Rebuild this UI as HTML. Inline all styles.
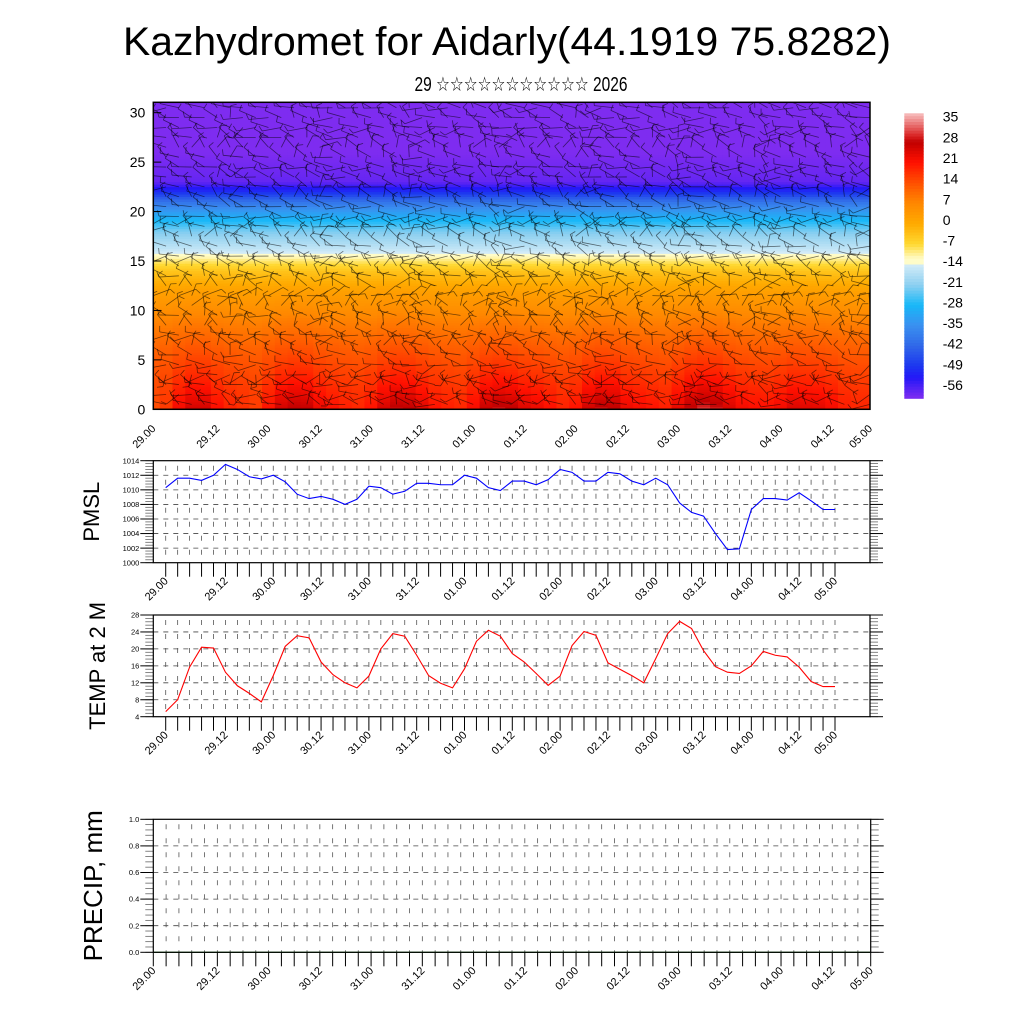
<!DOCTYPE html>
<html><head><meta charset="utf-8"><title>Kazhydromet for Aidarly</title>
<style>
html,body{margin:0;padding:0;background:#fff;}
svg{display:block;font-family:"Liberation Sans",Arial,sans-serif;}
</style></head>
<body>
<svg id="chart" xmlns="http://www.w3.org/2000/svg" width="1024" height="1024" viewBox="0 0 1024 1024">
<rect width="1024" height="1024" fill="#fff"/>
<text x="507" y="55" font-size="40" text-anchor="middle" textLength="768" lengthAdjust="spacingAndGlyphs">Kazhydromet for Aidarly(44.1919 75.8282)</text>
<text x="521" y="91" font-size="20" text-anchor="middle" textLength="213" lengthAdjust="spacingAndGlyphs" font-family="Liberation Sans, DejaVu Sans, sans-serif">29 ☆☆☆☆☆☆☆☆☆☆☆ 2026</text>
<defs><clipPath id="topclip"><rect x="153.3" y="102.3" width="716.7" height="307"/></clipPath></defs>
<g id="top"></g>
<g id="cbar"></g>
<g id="pmsl"></g>
<g id="temp"></g>
<g id="precip"></g>
</svg>
<script>
const timeLabels = ["29.00","29.12","30.00","30.12","31.00","31.12","01.00","01.12","02.00","02.12","03.00","03.12","04.00","04.12","05.00"];
const labelIdx = [0,5,9,13,17,21,25,29,33,37,41,45,49,53,56];
const pmslValues = [1010.3,1011.6,1011.6,1011.3,1012.0,1013.5,1012.8,1011.8,1011.5,1012.0,1011.1,1009.4,1008.8,1009.1,1008.7,1008.0,1008.7,1010.5,1010.3,1009.4,1009.8,1010.9,1010.9,1010.7,1010.7,1012.0,1011.6,1010.3,1009.9,1011.2,1011.2,1010.7,1011.4,1012.8,1012.4,1011.2,1011.2,1012.4,1012.2,1011.2,1010.7,1011.6,1010.7,1008.2,1006.9,1006.4,1004.0,1001.8,1001.9,1007.3,1008.8,1008.8,1008.6,1009.6,1008.5,1007.3,1007.3];
const tempValues = [5.2,8.0,15.7,20.4,20.2,14.5,11.3,9.5,7.5,13.7,20.6,23.1,22.6,16.9,13.9,12.0,10.8,13.6,20.0,23.6,23.0,18.5,13.7,11.9,10.8,15.3,21.8,24.4,23.0,18.9,16.9,14.2,11.4,13.6,20.8,24.1,23.2,16.7,15.2,13.7,12.0,17.7,23.6,26.5,24.8,19.6,15.8,14.5,14.2,16.0,19.4,18.5,18.1,15.7,12.3,11.1,11.1];
const precipValues = new Array(57).fill(0);
const pmslTicks = [1000,1002,1004,1006,1008,1010,1012,1014];
const tempTicks = [4,8,12,16,20,24,28];
const precipTicks = ["0.0","0.2","0.4","0.6","0.8","1.0"];
const heightTicks = [0,5,10,15,20,25,30];
const profileHeights = [0,2,4,6,9,12,14,15,15.5,16,18,20,21,22,22.5,23,26,31.1];
const profileTemps = [22,19,16,13,8,2,-4,-9,-12,-15,-22,-33,-40,-50,-54,-58,-60,-60];
const windDirByHeight = [200,150,190,120,160,200,230,170,240,200,260,300,240,190,220,160,200,230,190,150,180,220,190,200,170,210,240,200,160,190,185];
const cbarLabels = [35,28,21,14,7,0,-7,-14,-21,-28,-35,-42,-49,-56];
const cmapVals = [38,30,28,21,14,7,0,-7,-12,-13.9,-14,-21,-28,-35,-42,-49,-53,-60];
const cmapCols = ["#f8c0c0","#d82020","#c00000","#ff1000","#ff5000","#ff8800","#ffaa00","#ffd830","#fffcc8","#fffcc8","#d4ecf8","#8ed0f0","#18b8f8","#3a90f0","#3068e8","#1c36f0","#2418f8","#7e2cf0"];

const NS="http://www.w3.org/2000/svg";
function el(tag, attrs, parent){const e=document.createElementNS(NS,tag);for(const k in attrs)e.setAttribute(k,attrs[k]);parent.appendChild(e);return e;}
function hex(c){return [parseInt(c.substr(1,2),16),parseInt(c.substr(3,2),16),parseInt(c.substr(5,2),16)];}
function cmap(v){
  if(v>=cmapVals[0])return cmapCols[0];
  for(let i=0;i<cmapVals.length-1;i++){const a=cmapVals[i],b=cmapVals[i+1];
    if(v<=a&&v>=b){const t=(a-v)/(a-b||1);const c1=hex(cmapCols[i]),c2=hex(cmapCols[i+1]);
      return "rgb("+c1.map((c,j)=>Math.round(c+(c2[j]-c)*t)).join(",")+")";}}
  return cmapCols[cmapCols.length-1];
}
function interpProfile(z){
  for(let i=0;i<profileHeights.length-1;i++){if(z>=profileHeights[i]&&z<=profileHeights[i+1]){const t=(z-profileHeights[i])/(profileHeights[i+1]-profileHeights[i]);return profileTemps[i]+t*(profileTemps[i+1]-profileTemps[i]);}}
  return profileTemps[profileTemps.length-1];
}

function linePanel(gid, cfg){
  const g=document.getElementById(gid);
  const {L,R,T,B,x0,x1,ymin,ymax,ticks,minor,values,color,title,titleX,titleSize,fs}=cfg;
  const n=values.length;
  const xs=i=>x0+(x1-x0)*i/(n-1);
  const ys=v=>B-(v-ymin)/(ymax-ymin)*(B-T);
  ticks.forEach(t=>{const v=+t;const y=ys(v);
    if(v>ymin&&v<ymax){const gl=el("line",{x1:L,x2:R,y1:y,y2:y,stroke:"#444","stroke-width":0.8,"stroke-dasharray":"5,5"},g);
    
    }
  });
  for(let i=0;i<n;i++){const x=xs(i);
    if(x>L+1&&x<R-1){const vl=el("line",{x1:x,x2:x,y1:T+5,y2:B,stroke:"#555","stroke-width":0.8,"stroke-dasharray":"5,9"},g);
    
    }
    const tk=el("line",{x1:x,x2:x,y1:B,y2:B+14,stroke:"#000","stroke-width":1},g);
    
    
  }
  for(let v=ymin;v<=ymax+1e-9;v+=minor){const y=ys(v);
    el("line",{x1:L-8,x2:L,y1:y,y2:y,stroke:"#666","stroke-width":0.8},g);
    el("line",{x1:R,x2:R+8,y1:y,y2:y,stroke:"#666","stroke-width":0.8},g);}
  ticks.forEach(t=>{const y=ys(+t);
    el("line",{x1:L-13,x2:L,y1:y,y2:y,stroke:"#000","stroke-width":1},g);
    el("line",{x1:R,x2:R+13,y1:y,y2:y,stroke:"#000","stroke-width":1},g);
    const tl=el("text",{x:L-14,y:y+fs*0.35,"font-size":fs,"text-anchor":"end"},g);
    tl.textContent=t;
    
    
  });
  labelIdx.forEach((k,j)=>{const x=xs(k);
    const t=el("text",{x:x+3,y:B+19,"font-size":11,"text-anchor":"end",transform:"rotate(-45 "+(x+3)+" "+(B+19)+")"},g);
    t.textContent=timeLabels[j];
    
    
  });
  const pts=values.map((v,i)=>xs(i).toFixed(2)+","+ys(Math.max(ymin,v)).toFixed(2)).join(" ");
  const pl=el("polyline",{points:pts,fill:"none",stroke:color,"stroke-width":1.1},g);
  
  
  const bx=el("rect",{x:L,y:T,width:R-L,height:B-T,fill:"none",stroke:"#000","stroke-width":1.2},g);
  
  
  const cy=(T+B)/2;
  const tt=el("text",{x:titleX,y:cy,"font-size":titleSize,"text-anchor":"middle",transform:"rotate(-90 "+titleX+" "+cy+")"},g);
  tt.textContent=title;
  
  
}
linePanel("pmsl",{L:153.3,R:870,T:460.7,B:562.7,x0:165.7,x1:835,ymin:1000,ymax:1014,ticks:pmslTicks,minor:0.4,values:pmslValues,color:"#0000ff",title:"PMSL",titleX:99,titleSize:22,fs:7.5});
linePanel("temp",{L:153.3,R:870,T:615,B:716.7,x0:165.7,x1:835,ymin:4,ymax:28,ticks:tempTicks,minor:0.8,values:tempValues,color:"#ff0000",title:"TEMP at 2 M",titleX:105,titleSize:22,fs:7.5});
linePanel("precip",{L:153.3,R:870.7,T:819.3,B:952.3,x0:153.3,x1:870.7,ymin:0,ymax:1,ticks:precipTicks,minor:0.04,values:precipValues,color:"#008000",title:"PRECIP, mm",titleX:102,titleSize:26,fs:7.5});

(function(){
  const g=document.getElementById("top");
  const L=153.3,R=870,T=102.3,B=409.3,zmax=31.05;
  const n=tempValues.length;
  const dx=(R-L)/(n-1);
  const xs=i=>L+dx*i;
  const ys=z=>B-z/zmax*(B-T);
  const cg=el("g",{"clip-path":"url(#topclip)"},g);
  const dz=0.25;
  for(let i=0;i<n;i++){
    for(let z=0;z<zmax;z+=dz){
      const zc=z+dz/2;
      const v=interpProfile(zc)+(tempValues[i]-15)*0.8*Math.exp(-zc/3.5);
      const r=el("rect",{x:(xs(i)-dx/2).toFixed(2),y:(ys(z+dz)-0.3).toFixed(2),width:(dx+0.6).toFixed(2),height:((B-T)*dz/zmax+0.6).toFixed(2),fill:cmap(v)},cg);
      
      
    }
  }
  for(let i=0;i<n;i++){
    for(let k=0;k<windDirByHeight.length;k++){
      const z=k+0.5;
      const ang=(windDirByHeight[k]+((i*37+k*23)%90)-45+(i%7)*8)*Math.PI/180;
      const len=20;
      const x=xs(i),y=ys(z);
      const x2=x+len*Math.cos(ang),y2=y+len*Math.sin(ang)*0.6;
      const bl=el("line",{x1:x,y1:y,x2:x2,y2:y2,stroke:"#000","stroke-opacity":0.55,"stroke-width":0.8},cg);
      
      
      el("line",{x1:x2,y1:y2,x2:x2+6*Math.cos(ang+1.3),y2:y2+6*Math.sin(ang+1.3),stroke:"#000","stroke-opacity":0.55,"stroke-width":0.8},cg);
    }
  }
  heightTicks.forEach(h=>{const y=ys(h);
    el("line",{x1:L,x2:L+8,y1:y,y2:y,stroke:"#000","stroke-width":1},g);
    const t=el("text",{x:L-8,y:y+5,"font-size":14,"text-anchor":"end"},g);
    t.textContent=h;
    
    
  });
  labelIdx.forEach((k,j)=>{const x=L+(R-L)*k/56;
    const t=el("text",{x:x+3,y:B+20,"font-size":11,"text-anchor":"end",transform:"rotate(-45 "+(x+3)+" "+(B+20)+")"},g);
    t.textContent=timeLabels[j];
    
    
  });
  const bx=el("rect",{x:L,y:T,width:R-L,height:B-T,fill:"none",stroke:"#000","stroke-width":1.5},g);
  
  
})();

(function(){
  const g=document.getElementById("cbar");
  const x=904.3,w=19.4,top=113.3,bot=398.3;
  const vTop=38,vBot=-60;
  const steps=98;
  for(let s=0;s<steps;s++){
    const v=vTop-(vTop-vBot)*(s+0.5)/steps;
    const y=top+(bot-top)*s/steps;
    const r=el("rect",{x:x,y:y.toFixed(2),width:w,height:((bot-top)/steps+0.5).toFixed(2),fill:cmap(v)},g);
    
    
  }
  cbarLabels.forEach((v,j)=>{
    const y=116.7+j*(385-116.7)/13;
    const t=el("text",{x:942.7,y:y+5,"font-size":14},g);
    t.textContent=v;
    
    
  });
})();
</script>
</body></html>
